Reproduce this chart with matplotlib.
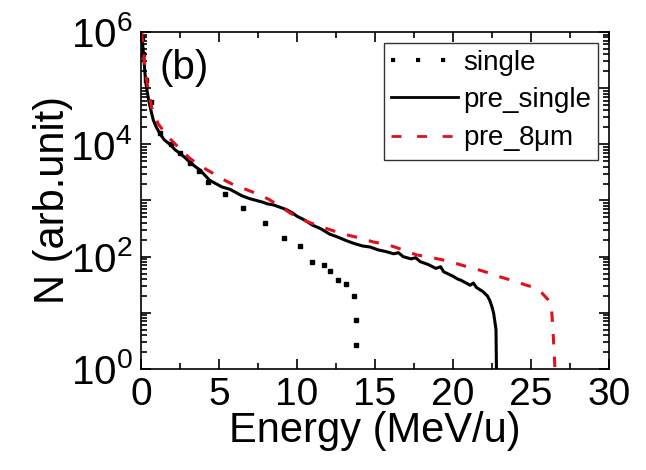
import numpy as np
import matplotlib
matplotlib.use("Agg")
import matplotlib.pyplot as plt
from matplotlib.lines import Line2D
from matplotlib.ticker import LogLocator, FixedLocator, NullFormatter, FuncFormatter

plt.rcParams['font.family'] = ['Liberation Sans', 'DejaVu Sans']
plt.rcParams['mathtext.fontset'] = 'custom'
plt.rcParams['mathtext.rm'] = 'Liberation Sans'
plt.rcParams['mathtext.it'] = 'Liberation Sans:italic'

# single (dots)
single_E = [0.05, 0.15, 0.3, 0.62, 1.2, 1.92, 2.5, 3.14, 3.7, 4.29, 5.4, 6.56,
            7.95, 9.19, 10.19, 10.98, 11.75, 12.14, 12.65, 13.14, 13.63, 13.8, 13.8]
single_logN = [5.9, 5.6, 5.15, 4.76, 4.2, 4.0, 3.84, 3.66, 3.52, 3.33, 3.12, 2.86,
               2.59, 2.33, 2.19, 1.91, 1.85, 1.75, 1.58, 1.52, 1.30, 0.87, 0.43]

# pre_single (solid black)
pre_E = [0.04, 0.1, 0.15, 0.2, 0.3, 0.4, 0.5, 0.65, 0.8, 1.0, 1.2, 1.5, 1.9, 2.2,
         2.5, 2.8, 3.1, 3.5, 3.8, 4.1, 4.4, 4.8, 5.2, 5.7, 6.1, 6.5, 7.0, 7.4, 7.8,
         8.1, 8.5, 8.9, 9.3, 9.7, 10.0, 10.5, 11.0, 11.5, 12.1, 12.6, 13.2, 13.7,
         14.2, 14.7, 15.2, 15.7, 16.2, 16.5, 16.8, 17.3, 17.6, 17.9, 18.4, 18.9,
         19.2, 19.4, 20.0, 20.3, 20.5, 21.1, 21.3, 21.5, 21.9, 22.2, 22.35, 22.5,
         22.6, 22.7, 22.75, 22.8]
pre_logN = [6.0, 5.85, 5.68, 5.5, 5.14, 4.95, 4.79, 4.6, 4.43, 4.3, 4.2, 4.08, 3.99,
            3.9, 3.84, 3.77, 3.69, 3.6, 3.54, 3.45, 3.36, 3.3, 3.24, 3.2, 3.14, 3.08,
            3.03, 3.0, 2.97, 2.94, 2.92, 2.88, 2.84, 2.78, 2.72, 2.65, 2.56, 2.5,
            2.4, 2.35, 2.28, 2.23, 2.19, 2.17, 2.12, 2.09, 2.05, 2.07, 2.0, 1.96,
            1.98, 1.91, 1.86, 1.79, 1.82, 1.73, 1.65, 1.6, 1.58, 1.49, 1.53, 1.45,
            1.38, 1.3, 1.22, 1.1, 0.99, 0.8, 0.7, -0.5]

# pre_8um (red dashed)
p8_E = [0.04, 0.15, 0.26, 0.47, 0.7, 1.1, 1.5, 1.86, 2.5, 3.14, 3.9, 4.64, 5.3, 6.0,
        6.8, 7.52, 8.2, 9.0, 9.6, 10.3, 11.37, 12.0, 12.65, 13.3, 14.04, 14.9, 15.85,
        16.8, 17.67, 18.5, 19.2, 19.8, 20.9, 21.7, 22.4, 23.0, 24.1, 24.7, 25.1,
        25.4, 25.7, 25.9, 26.2, 26.3, 26.4, 26.5, 26.6]
p8_logN = [6.0, 5.75, 5.38, 4.96, 4.65, 4.37, 4.22, 4.1, 3.92, 3.75, 3.6, 3.48, 3.37,
           3.27, 3.19, 3.11, 3.02, 2.88, 2.77, 2.66, 2.55, 2.49, 2.43, 2.38, 2.33,
           2.26, 2.21, 2.12, 2.03, 1.99, 1.95, 1.91, 1.82, 1.76, 1.7, 1.64, 1.55,
           1.49, 1.46, 1.41, 1.35, 1.29, 1.2, 1.11, 0.69, 0.16, -0.5]

red = '#e0101c'

fig = plt.figure(figsize=(6.46, 4.70), dpi=100)
ax = fig.add_axes([0.218, 0.215, 0.725, 0.717])

ax.plot(single_E, 10 ** np.array(single_logN), ls='none', marker='s', ms=3.5,
        color='black')
ax.plot(pre_E, 10 ** np.array(pre_logN), color='black', lw=2.2)
ax.plot(p8_E, 10 ** np.array(p8_logN), color=red, lw=2.2, dashes=(3.4, 4))

ax.set_yscale('log')
ax.set_xlim(0, 30)
ax.set_ylim(1, 1e6)

ax.xaxis.set_major_locator(FixedLocator([0, 5, 10, 15, 20, 25, 30]))
ax.xaxis.set_minor_locator(FixedLocator([2.5, 7.5, 12.5, 17.5, 22.5, 27.5]))
ax.yaxis.set_major_locator(FixedLocator([1, 10, 100, 1e3, 1e4, 1e5, 1e6]))
ax.yaxis.set_minor_locator(LogLocator(base=10, subs=np.arange(2, 10), numticks=20))
ax.yaxis.set_minor_formatter(NullFormatter())


def yfmt(v, pos):
    e = int(round(np.log10(v)))
    return r'$\mathregular{10^{%d}}$' % e if e % 2 == 0 else ''


ax.yaxis.set_major_formatter(FuncFormatter(yfmt))

ax.tick_params(which='both', direction='in', top=True, right=True, width=1.2)
ax.tick_params(axis='x', labelsize=28, pad=6)
ax.tick_params(axis='y', labelsize=29, pad=6)
ax.tick_params(which='major', length=7)
ax.tick_params(which='minor', length=4)
for s in ax.spines.values():
    s.set_linewidth(1.2)

ax.set_xlabel('Energy (MeV/u)', fontsize=30, labelpad=-2)
ax.set_ylabel('N (arb.unit)', fontsize=30, labelpad=-2)

ax.text(0.04, 0.95, '(b)', transform=ax.transAxes, fontsize=29, va='top')

handles = [Line2D([], [], color='black', ls=(0, (1, 5)), lw=3),
           Line2D([], [], color='black', lw=2),
           Line2D([], [], color=red, lw=2, dashes=(3.6, 5.6))]
ax.legend(handles, ['single', 'pre_single', r'pre_8$\mathregular{\mu}$m'],
          loc='upper right', fontsize=20, frameon=True, fancybox=False,
          edgecolor='black', handlelength=2.4, handletextpad=0.2,
          borderpad=0.25, labelspacing=0.4, borderaxespad=0.4)

fig.savefig('out.png', dpi=100)
